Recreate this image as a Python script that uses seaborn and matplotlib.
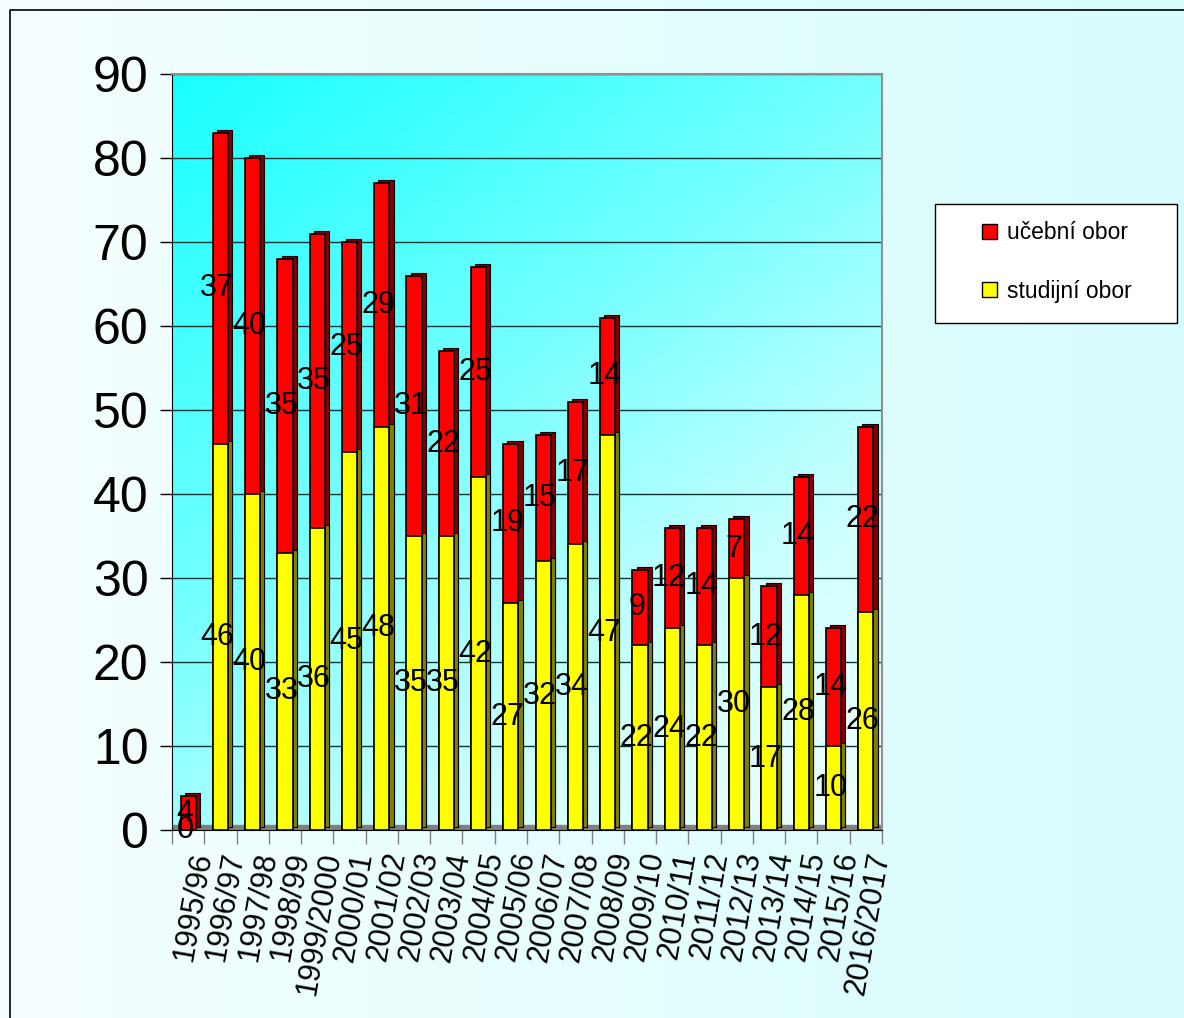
import numpy as np
import pandas as pd
import matplotlib
matplotlib.use("Agg")
import matplotlib.pyplot as plt
from matplotlib.colors import LinearSegmentedColormap
from matplotlib.patches import Patch, Rectangle
import seaborn as sns

years = ["1995/96", "1996/97", "1997/98", "1998/99", "1999/2000", "2000/01",
         "2001/02", "2002/03", "2003/04", "2004/05", "2005/06", "2006/07",
         "2007/08", "2008/09", "2009/10", "2010/11", "2011/12", "2012/13",
         "2013/14", "2014/15", "2015/16", "2016/2017"]
studijni = [0, 46, 40, 33, 36, 45, 48, 35, 35, 42, 27, 32, 34, 47, 22, 24, 22, 30, 17, 28, 10, 26]
ucebni = [4, 37, 40, 35, 35, 25, 29, 31, 22, 25, 19, 15, 17, 14, 9, 12, 14, 7, 12, 14, 14, 22]

df = pd.DataFrame({"rok": years, "studijni": studijni, "ucebni": ucebni})
df["celkem"] = df["studijni"] + df["ucebni"]

sns.set_style("white")
plt.rcParams["font.family"] = ["Liberation Sans", "DejaVu Sans"]
plt.rcParams["text.color"] = "black"
plt.rcParams["xtick.color"] = "black"
plt.rcParams["ytick.color"] = "black"

W, H = 1184, 1018
fig = plt.figure(figsize=(W / 100, H / 100), dpi=100)

# pale figure background
bg = fig.add_axes([0, 0, 1, 1], zorder=-10)
bg.imshow(np.linspace(0, 1, 256)[None, :], aspect="auto", extent=[0, 1, 0, 1],
          cmap=LinearSegmentedColormap.from_list("bg", ["#f6ffff", "#d6fcfc"]))
bg.set_axis_off()
bg.plot([10 / W, 10 / W, 1], [0, 1 - 10 / H, 1 - 10 / H], color="black", lw=1.2)
bg.set_xlim(0, 1)
bg.set_ylim(0, 1)

ax = fig.add_axes([172 / W, 1 - 830 / H, (882 - 172) / W, (830 - 74) / H])
n = len(years)

# plot area diagonal gradient
gx, gy = np.meshgrid(np.linspace(0, 1, 200), np.linspace(1, 0, 200))
t = (gx + (1 - gy) * 1.4) / 2.4
wall = LinearSegmentedColormap.from_list("wall", [(0, "#18ffff"), (0.4, "#70ffff"),
                                                  (0.75, "#d0ffff"), (1, "#f4ffff")])
ax.imshow(t, aspect="auto", extent=[-0.5, n - 0.5, 0, 90], cmap=wall, zorder=0)

ax.axhspan(0, 0.6, color="#808080", zorder=1)

# 3D side faces
x = np.arange(n)
ax.bar(x + 0.13, df["celkem"], bottom=0.35, width=0.47, color="#800000",
       edgecolor="black", linewidth=0.8, zorder=2)
ax.bar(x + 0.13, df["studijni"], bottom=0.35, width=0.47, color="#808000",
       edgecolor="black", linewidth=0.8, zorder=2)

sns.barplot(data=df, x="rok", y="celkem", color="#ff0000", saturation=1, width=0.47,
            edgecolor="black", linewidth=1.2, ax=ax, zorder=3)
sns.barplot(data=df, x="rok", y="studijni", color="#ffff00", saturation=1, width=0.47,
            edgecolor="black", linewidth=1.2, ax=ax, zorder=4)

for i, (s, u) in enumerate(zip(studijni, ucebni)):
    ax.text(i - 0.1, s / 2, str(s), ha="center", va="center", fontsize=22, zorder=6)
    ax.text(i - 0.1, s + u / 2, str(u), ha="center", va="center", fontsize=22, zorder=6)

ax.set_xlim(-0.5, n - 0.5)
ax.set_ylim(0, 90)
ax.set_yticks(range(0, 91, 10))
for yv in range(10, 91, 10):
    ax.axhline(yv, color="#0a3434", lw=1, zorder=1)
ax.tick_params(axis="y", labelsize=36, length=9, width=1, direction="out", left=True, pad=8)

ax.set_xticks(x)
ax.set_xticklabels(years, rotation=80, ha="right", rotation_mode="anchor", fontsize=22)
ax.set_xticks(np.arange(n + 1) - 0.5, minor=True)
ax.tick_params(axis="x", which="major", length=0, pad=14)
ax.tick_params(axis="x", which="minor", length=10, width=1, bottom=True, color="#808080")
ax.set_xlabel("")
ax.set_ylabel("")

for side in ["top", "right"]:
    ax.spines[side].set_color("#909090")
    ax.spines[side].set_linewidth(1.5)
ax.spines["left"].set_color("black")
ax.spines["bottom"].set_color("black")

# legend box
fig.patches.append(Rectangle((935 / W, 1 - 323 / H), (1177 - 935) / W, (323 - 204) / H,
                             transform=fig.transFigure, facecolor="white",
                             edgecolor="black", linewidth=1, zorder=5))
handles = [Patch(facecolor="#ff0000", edgecolor="black", label="učební obor"),
           Patch(facecolor="#ffff00", edgecolor="black", label="studijní obor")]
leg = fig.legend(handles=handles, loc="center left", bbox_to_anchor=(982 / W, 1 - 262 / H),
                 fontsize=16.5, frameon=False, handlelength=0.65, handleheight=0.65,
                 handletextpad=0.45, labelspacing=1.55, borderpad=0, borderaxespad=0)
leg.set_zorder(6)

fig.savefig("out.png", dpi=100)
